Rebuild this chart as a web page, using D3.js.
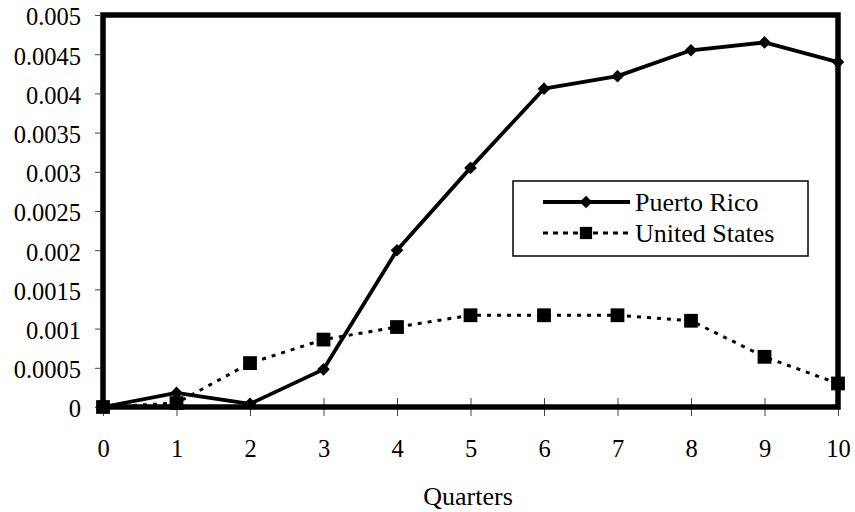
<!DOCTYPE html>
<html>
<head>
<meta charset="utf-8">
<script src="https://cdn.jsdelivr.net/npm/d3@7"></script>
</head>
<body style="margin:0">
<script>
// data
const quarters = [0, 1, 2, 3, 4, 5, 6, 7, 8, 9, 10];
const puertoRico = [0, 0.00018, 0.00004, 0.00048, 0.002, 0.00305, 0.00406, 0.00422, 0.00455, 0.00465, 0.0044];
const unitedStates = [0, 0.00005, 0.00056, 0.00086, 0.00102, 0.00117, 0.00117, 0.00117, 0.0011, 0.00064, 0.0003];
const yTicks = [0, 0.0005, 0.001, 0.0015, 0.002, 0.0025, 0.003, 0.0035, 0.004, 0.0045, 0.005];
const seriesNames = ["Puerto Rico", "United States"];

const FONT = '"Liberation Serif"';
const width = 855, height = 512;
const margin = {top: 15, right: 17, bottom: 105, left: 103};

const svg = d3.select("body").append("svg")
    .attr("width", width)
    .attr("height", height);

const x = d3.scaleLinear().domain([0, 10]).range([margin.left, width - margin.right]);
const y = d3.scaleLinear().domain([0, 0.005]).range([height - margin.bottom, margin.top]);

// small helper so every label gets the same serif face
function label(sel, size) {
  return sel.attr("font-family", null)
      .style("font-family", FONT)
      .attr("font-size", size)
      .attr("fill", "#000");
}

// y axis: short ticks outside, labels on the left
const yAxis = svg.append("g")
    .attr("transform", `translate(${margin.left - 3},0)`)
    .call(d3.axisLeft(y).tickValues(yTicks).tickSize(5).tickPadding(14)
      .tickFormat(d => d === 0 ? "0" : String(+d.toPrecision(2))));
yAxis.attr("font-family", null).attr("font-size", null);
yAxis.select(".domain").remove();
yAxis.selectAll(".tick line").attr("stroke", "#444");
label(yAxis.selectAll(".tick text"), 24.5).attr("dy", "0.4em");

// x axis: ticks cross the bottom border
const xAxis = svg.append("g")
    .attr("transform", `translate(0,${y(0)})`)
    .call(d3.axisBottom(x).tickValues(quarters).tickSize(9).tickPadding(23.5));
xAxis.attr("font-family", null).attr("font-size", null);
xAxis.select(".domain").remove();
xAxis.selectAll(".tick line").attr("stroke", "#444").attr("y1", -9);
label(xAxis.selectAll(".tick text"), 24.5);

label(svg.append("text"), 26)
    .attr("x", 468)
    .attr("y", 505)
    .attr("text-anchor", "middle")
    .text("Quarters");

// plot border
svg.append("rect")
    .attr("x", x(0))
    .attr("y", y(0.005))
    .attr("width", x(10) - x(0))
    .attr("height", y(0) - y(0.005))
    .attr("fill", "none")
    .attr("stroke", "#000")
    .attr("stroke-width", 5.5);

const line = d3.line()
    .x((d, i) => x(quarters[i]))
    .y(d => y(d));

// United States: dotted with squares
svg.append("path")
    .datum(unitedStates)
    .attr("d", line)
    .attr("fill", "none")
    .attr("stroke", "#000")
    .attr("stroke-width", 3)
    .attr("stroke-dasharray", "4,6");

svg.selectAll(".us-pt")
    .data(unitedStates)
    .enter().append("path")
    .attr("class", "us-pt")
    .attr("transform", (d, i) => `translate(${x(quarters[i])},${y(d)})`)
    .attr("d", d3.symbol(d3.symbolSquare, 190));

// Puerto Rico: solid with diamonds
svg.append("path")
    .datum(puertoRico)
    .attr("d", line)
    .attr("fill", "none")
    .attr("stroke", "#000")
    .attr("stroke-width", 3.8)
    .attr("stroke-linejoin", "round");

svg.selectAll(".pr-pt")
    .data(puertoRico)
    .enter().append("path")
    .attr("class", "pr-pt")
    .attr("transform", (d, i) => `translate(${x(quarters[i])},${y(d)}) rotate(45)`)
    .attr("d", d3.symbol(d3.symbolSquare, 80));

// legend
const legend = svg.append("g").attr("transform", "translate(513,181)");
legend.append("rect")
    .attr("width", 295)
    .attr("height", 75)
    .attr("fill", "#fff")
    .attr("stroke", "#000")
    .attr("stroke-width", 1.5);

seriesNames.forEach((name, i) => {
  const ly = 21 + i * 31;
  legend.append("line")
      .attr("x1", 30).attr("x2", 117)
      .attr("y1", ly).attr("y2", ly)
      .attr("stroke", "#000")
      .attr("stroke-width", i === 0 ? 3.8 : 3)
      .attr("stroke-dasharray", i === 0 ? null : "5,5");
  legend.append("path")
      .attr("transform", `translate(73,${ly})` + (i === 0 ? " rotate(45)" : ""))
      .attr("d", d3.symbol(d3.symbolSquare, i === 0 ? 80 : 150));
  label(legend.append("text"), 26)
      .attr("x", 122)
      .attr("y", ly)
      .attr("dy", "0.33em")
      .text(name);
});
</script>
</body>
</html>
